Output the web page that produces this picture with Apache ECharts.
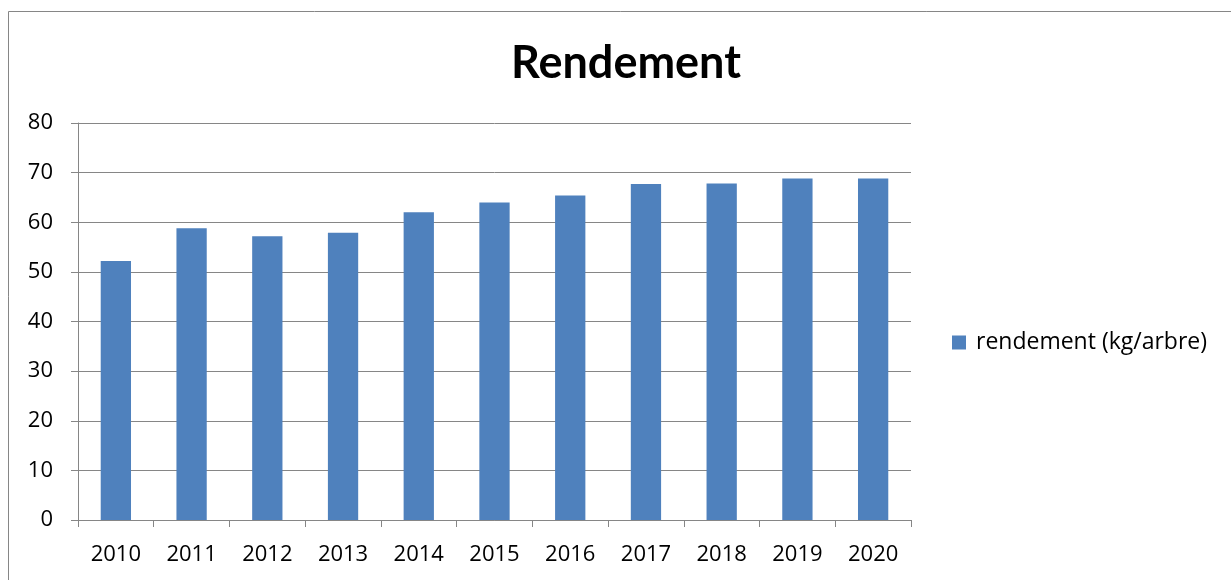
<!DOCTYPE html>
<html>
<head>
<meta charset="utf-8">
<script src="https://cdn.jsdelivr.net/npm/echarts@6/dist/echarts.min.js"></script>
<style>
  html, body { margin: 0; padding: 0; background: #fff; }
  #chart { width: 1231px; height: 580px; }
</style>
</head>
<body>
<div id="chart"></div>
<script>
const years = ['2010', '2011', '2012', '2013', '2014', '2015', '2016', '2017', '2018', '2019', '2020']
const rendement = [52.2, 58.8, 57.2, 57.9, 62.0, 64.0, 65.4, 67.7, 67.8, 68.8, 68.8]
const seriesName = 'rendement (kg/arbre)'

const BAR = '#4f81bd'
const LINE = '#868686'
const FONT = '"Open Sans", sans-serif'

const chart = echarts.init(document.getElementById('chart'))
chart.setOption({
  animation: false,
  title: {
    text: 'Rendement',
    left: 506,
    top: 36,
    textStyle: { fontFamily: 'Lato, sans-serif', fontSize: 45, fontWeight: 'bold', color: '#000' },
  },
  legend: {
    orient: 'vertical',
    left: 947,
    top: 326,
    itemWidth: 14,
    itemHeight: 14,
    itemGap: 8,
    icon: 'rect',
    textStyle: { fontFamily: FONT, fontSize: 23, color: '#000', padding: [0, 0, 0, 5] },
  },
  grid: { left: 78, right: 320, top: 123, bottom: 60 },
  xAxis: {
    type: 'category',
    data: years,
    axisLine: { lineStyle: { color: LINE, width: 1 } },
    axisTick: { show: true, length: 7, lineStyle: { color: LINE } },
    axisLabel: { fontFamily: FONT, fontSize: 22, color: '#000', margin: 24 },
  },
  yAxis: {
    type: 'value',
    min: 0,
    max: 80,
    interval: 10,
    axisLine: { show: true, lineStyle: { color: LINE, width: 1 } },
    axisTick: { show: true, length: 7, lineStyle: { color: LINE } },
    splitLine: { lineStyle: { color: LINE, width: 1 } },
    axisLabel: { fontFamily: FONT, fontSize: 22, color: '#000', margin: 25 },
  },
  series: [{
    name: seriesName,
    type: 'bar',
    data: rendement,
    barCategoryGap: '60%',
    itemStyle: { color: BAR },
  }],
  graphic: [{
    type: 'rect',
    shape: { x: 8.5, y: 11.5, width: 1300, height: 700 },
    style: { fill: null, stroke: LINE, lineWidth: 1 },
    silent: true,
  }],
})
</script>
</body>
</html>
